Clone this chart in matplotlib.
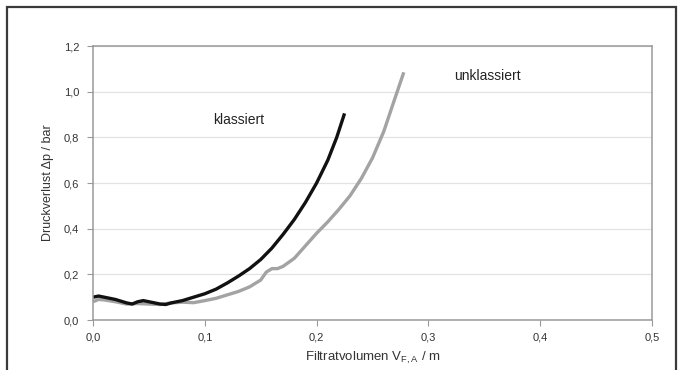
import matplotlib

matplotlib.use("Agg")
import matplotlib.pyplot as plt
from matplotlib.patches import Rectangle
from matplotlib.ticker import FuncFormatter, MultipleLocator

plt.rcParams["font.family"] = ["Liberation Sans", "DejaVu Sans"]

# klassiert (black)
klass_x = [0.0, 0.005, 0.01, 0.02, 0.03, 0.035, 0.04, 0.045, 0.05, 0.06, 0.065, 0.07,
           0.08, 0.09, 0.10, 0.11, 0.12, 0.13, 0.14, 0.15, 0.16, 0.17, 0.18, 0.19,
           0.20, 0.21, 0.218, 0.225]
klass_y = [0.10, 0.105, 0.10, 0.09, 0.075, 0.07, 0.08, 0.085, 0.08, 0.07, 0.068, 0.075,
           0.085, 0.10, 0.115, 0.135, 0.162, 0.192, 0.225, 0.265, 0.315, 0.375, 0.44, 0.515,
           0.60, 0.70, 0.80, 0.905]

# unklassiert (grey)
unkl_x = [0.0, 0.005, 0.01, 0.02, 0.03, 0.04, 0.05, 0.06, 0.07, 0.08, 0.09, 0.10,
          0.11, 0.12, 0.13, 0.14, 0.15, 0.155, 0.16, 0.165, 0.17, 0.18, 0.19, 0.20,
          0.21, 0.22, 0.23, 0.24, 0.25, 0.26, 0.27, 0.278]
unkl_y = [0.08, 0.09, 0.088, 0.08, 0.07, 0.072, 0.07, 0.068, 0.075, 0.078, 0.076, 0.085,
          0.095, 0.11, 0.125, 0.145, 0.175, 0.21, 0.225, 0.225, 0.235, 0.27, 0.325, 0.38,
          0.43, 0.485, 0.545, 0.62, 0.71, 0.825, 0.97, 1.085]

comma = FuncFormatter(lambda v, pos: f"{v:.1f}".replace(".", ","))

fig = plt.figure(figsize=(6.81, 3.70), dpi=100)
ax = fig.add_axes([0.1366, 0.1351, 0.8208, 0.7405])

# outer frame around the whole picture
fig.patches.append(Rectangle((7 / 681, -0.02), 669 / 681, 1.0 - 7 / 370 + 0.02,
                             transform=fig.transFigure, fill=False,
                             edgecolor="#3a3a3a", linewidth=1.6))

ax.plot(unkl_x, unkl_y, color="#a3a3a3", linewidth=2.4, solid_capstyle="butt",
        solid_joinstyle="round")
ax.plot(klass_x, klass_y, color="#111111", linewidth=2.4, solid_capstyle="butt",
        solid_joinstyle="round")

ax.text(0.13, 0.875, "klassiert", fontsize=10, color="#222222", ha="center", va="center")
ax.text(0.353, 1.068, "unklassiert", fontsize=10, color="#222222", ha="center", va="center")

ax.set_xlim(0, 0.5)
ax.set_ylim(0, 1.2)
ax.xaxis.set_major_locator(MultipleLocator(0.1))
ax.yaxis.set_major_locator(MultipleLocator(0.2))
ax.xaxis.set_major_formatter(comma)
ax.yaxis.set_major_formatter(comma)
ax.grid(axis="y", color="#e2e2e2", linewidth=0.9)
ax.set_axisbelow(True)
for side in ax.spines.values():
    side.set_color("#9a9a9a")
    side.set_linewidth(1.1)
ax.tick_params(length=4, width=0.8, color="#9a9a9a", labelsize=8, labelcolor="#333333")
ax.tick_params(axis="y", pad=6)
ax.tick_params(axis="x", pad=5)

ax.set_xlabel("Filtratvolumen V$_{\\mathregular{F,A}}$ / m", fontsize=9.5, color="#333333", labelpad=5)
ax.set_ylabel("Druckverlust \u0394p / bar", fontsize=9, color="#333333", labelpad=7)

fig.savefig("out.png", dpi=100)
